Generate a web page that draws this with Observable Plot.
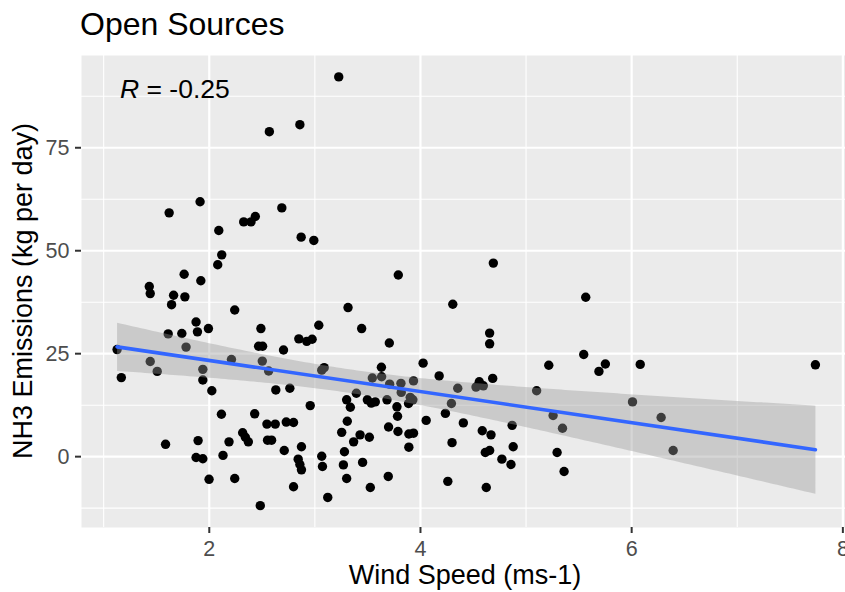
<!DOCTYPE html>
<html>
<head>
<meta charset="utf-8">
<script src="https://cdn.jsdelivr.net/npm/d3@7"></script>
<script src="https://cdn.jsdelivr.net/npm/@observablehq/plot@0.6"></script>
<style>
  html, body { margin: 0; padding: 0; background: white; }
  #wrap { position: relative; width: 845px; height: 592px; overflow: hidden; font-family: "Liberation Sans", Arial, sans-serif; }
  #wrap svg { position: absolute; left: 0; top: 0; }
  .lbl { position: absolute; white-space: nowrap; line-height: 1.2; color: black; }
</style>
</head>
<body>
<div id="wrap">
  <div id="chart"></div>
  <div class="lbl" style="left:80px; top:4.7px; font-size:32px;">Open Sources</div>
  <div class="lbl" style="left:120px; top:73.9px; font-size:26.5px;"><i>R</i> = -0.25</div>
  <div class="lbl" style="left:465px; top:559.4px; font-size:27px; transform: translateX(-50%);">Wind Speed (ms-1)</div>
  <div class="lbl" style="left:22.6px; top:291px; font-size:27px; transform: translate(-50%, -50%) rotate(-90deg);">NH3 Emissions (kg per day)</div>
</div>
<script>
const windSpeed = [
  3.226, 2.569, 2.858, 1.62, 1.913, 2.09, 2.326, 2.395, 2.436, 2.687,
  2.87, 2.99, 2.118, 4.69, 2.08, 1.762, 1.92, 1.432, 1.441, 1.662,
  1.769, 1.643, 2.241, 1.875, 1.888, 1.992, 1.611, 1.74, 1.78, 1.127,
  1.441, 1.507, 2.21, 1.939, 1.939, 1.167, 2.024, 3.79, 3.314, 3.037,
  2.489, 3.443, 3.705, 2.848, 2.923, 2.974, 2.467, 2.505, 2.703, 2.502,
  2.562, 3.088, 3.065, 3.63, 3.632, 3.544, 3.708, 3.815, 2.63, 2.763,
  4.306, 4.655, 4.655, 4.025, 5.215, 4.177, 4.684, 4.557, 4.595, 3.934,
  4.353, 4.526, 5.1, 5.565, 5.546, 5.751, 5.69, 6.081, 7.74, 2.115,
  2.43, 2.316, 2.342, 2.37, 2.187, 1.894, 1.586, 2.13, 1.875, 1.939,
  1.998, 2.241, 2.956, 2.546, 2.625, 2.729, 2.798, 2.552, 2.59, 2.71,
  2.873, 2.842, 2.858, 2.873, 2.798, 2.483, 3.065, 3.072, 3.122, 3.301,
  3.336, 3.497, 3.534, 3.572, 3.683, 3.777, 3.783, 3.307, 3.254, 3.698,
  3.787, 3.428, 3.516, 3.367, 3.28, 3.27, 3.452, 3.301, 3.525, 3.695,
  3.393, 3.818, 3.903, 3.928, 3.887, 3.89, 3.934, 3.89, 4.054, 4.236,
  4.293, 4.406, 4.299, 4.585, 4.668, 4.614, 4.655, 4.771, 4.857, 4.878,
  4.868, 4.259, 4.623, 5.256, 5.345, 5.294, 5.36, 6.008, 6.279, 6.393
];
const nh3Emissions = [
  92.2, 78.9, 80.6, 59.2, 61.9, 54.9, 57.0, 57.0, 58.3, 60.4,
  53.3, 52.5, 49.0, 47.0, 46.6, 44.3, 42.7, 41.3, 39.6, 39.2,
  38.8, 36.9, 35.6, 32.7, 30.3, 31.1, 29.8, 29.9, 26.6, 26.0,
  23.1, 20.7, 23.6, 21.2, 18.6, 19.2, 16.0, 44.1, 36.2, 31.9,
  31.1, 31.1, 27.6, 28.6, 28.0, 28.5, 26.8, 26.8, 25.9, 23.2,
  20.8, 21.6, 21.0, 21.7, 19.4, 19.1, 17.6, 17.8, 16.2, 16.6,
  37.0, 30.0, 27.4, 22.7, 22.2, 19.6, 19.0, 18.2, 17.2, 18.4,
  16.6, 16.9, 16.0, 38.7, 24.8, 22.5, 20.7, 22.4, 22.3, 10.3,
  10.4, 5.8, 4.7, 3.6, 3.6, 3.9, 3.0, 0.3, -0.2, -0.5,
  -5.5, -5.3, 12.4, 7.9, 7.9, 8.4, 8.3, 4.0, 4.0, 1.5,
  2.4, -0.6, -1.9, -3.2, -7.3, -11.9, 0.1, -2.4, -9.9, 13.8,
  12.0, 13.8, 13.0, 13.3, 13.8, 12.1, 9.8, 8.6, 5.9, 7.2,
  6.1, 5.3, 4.7, 3.6, 1.2, -2.0, -1.4, -5.3, -7.5, -4.8,
  15.4, 15.6, 14.4, 13.8, 12.9, 5.5, 5.7, 2.3, 8.8, 10.5,
  12.9, 8.2, 3.4, 6.3, 5.3, 1.0, 1.5, -0.6, -1.9, 2.4,
  7.6, -6.0, -7.5, 10.0, 6.9, 1.0, -3.6, 13.3, 9.5, 1.5
];
const xMajorTicks = [2, 4, 6, 8];
const xMinorTicks = [1, 3, 5, 7];
const yMajorTicks = [0, 25, 50, 75];
const yMinorTicks = [-12.5, 12.5, 37.5, 62.5, 87.5];

const data = windSpeed.map((w, i) => ({wind: w, nh3: nh3Emissions[i]}));

const chart = Plot.plot({
  width: 845,
  height: 592,
  marginTop: 55,
  marginBottom: 65,
  marginLeft: 81,
  marginRight: 0,
  style: {background: "white", fontFamily: '"Liberation Sans", Arial, sans-serif', overflow: "visible"},
  x: {domain: [0.79, 8.025]},
  y: {domain: [-17.2, 97.4]},
  marks: [
    Plot.frame({fill: "#EBEBEB", stroke: null}),
    Plot.ruleX(xMinorTicks, {stroke: "white", strokeWidth: 1.1}),
    Plot.ruleY(yMinorTicks, {stroke: "white", strokeWidth: 1.1}),
    Plot.ruleX(xMajorTicks, {stroke: "white", strokeWidth: 2.2}),
    Plot.ruleY(yMajorTicks, {stroke: "white", strokeWidth: 2.2}),
    Plot.dot(data, {x: "wind", y: "nh3", r: 4.7, fill: "black"}),
    Plot.linearRegressionY(data, {x: "wind", y: "nh3", stroke: "#3366FF", strokeWidth: 3.6, fill: "#999999", fillOpacity: 0.4}),
    Plot.axisX(xMajorTicks, {tickSize: 6, tickPadding: 7, fontSize: 21.5, stroke: "#333333", fill: "#4D4D4D", strokeWidth: 2, label: null}),
    Plot.axisY(yMajorTicks, {tickSize: 6, tickPadding: 6, fontSize: 21.5, stroke: "#333333", fill: "#4D4D4D", strokeWidth: 2, label: null})
  ]
});
document.getElementById("chart").appendChild(chart);
</script>
</body>
</html>
